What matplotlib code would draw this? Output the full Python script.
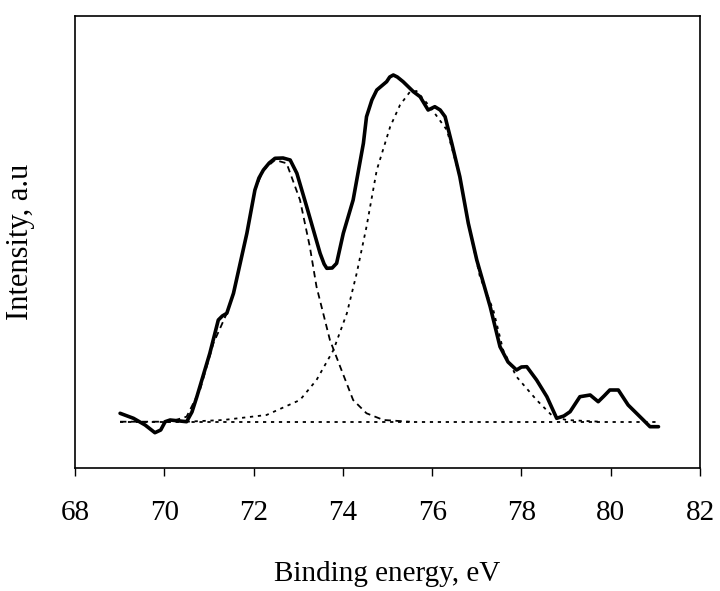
import matplotlib
matplotlib.use("Agg")
import matplotlib.pyplot as plt

# Measured spectrum (binding energy in eV, intensity in arbitrary units)
energy = [69.01, 69.31, 69.57, 69.79, 69.92, 70.02, 70.13, 70.50, 70.62, 70.73,
          71.02, 71.21, 71.30, 71.40, 71.55, 71.85, 72.03, 72.12, 72.22, 72.35,
          72.48, 72.66, 72.82, 72.97, 73.19, 73.49, 73.58, 73.64, 73.76, 73.86,
          74.01, 74.23, 74.46, 74.53, 74.65, 74.76, 74.98, 75.05, 75.13, 75.22,
          75.35, 75.58, 75.73, 75.91, 76.06, 76.18, 76.29, 76.44, 76.62, 76.81,
          77.00, 77.30, 77.52, 77.70, 77.89, 78.00, 78.12, 78.34, 78.57, 78.79,
          78.95, 79.09, 79.31, 79.54, 79.72, 79.85, 79.98, 80.17, 80.39, 80.73,
          80.88, 81.07]
intensity = [54.7, 49.7, 43.0, 35.3, 38.0, 46.3, 48.0, 46.3, 56.0, 71.3,
             114.7, 148.0, 152.0, 154.7, 174.7, 234.7, 278.0, 290.0, 298.0, 305.0,
             309.7, 310.0, 308.0, 294.7, 261.3, 214.7, 204.0, 199.7, 200.0, 204.7,
             234.7, 268.0, 324.7, 351.3, 368.0, 378.0, 386.3, 391.0, 393.0, 391.0,
             386.3, 376.3, 371.3, 358.0, 361.3, 358.0, 351.3, 324.7, 291.3, 244.7,
             208.0, 161.3, 121.3, 106.0, 98.0, 101.0, 101.3, 88.0, 71.3, 49.7,
             52.0, 56.3, 71.3, 73.0, 66.3, 72.0, 78.0, 78.0, 63.0, 48.0,
             41.3, 41.3]

# Fitted component 1 (dashed)
comp1_energy = [69.01, 70.13, 70.50, 70.80, 71.10, 71.40, 71.55, 71.85, 72.03, 72.22,
                72.48, 72.74, 73.04, 73.26, 73.41, 73.71, 73.94, 74.23, 74.53, 74.91, 75.50]
comp1_intensity = [46.3, 46.3, 51.3, 78.0, 124.7, 154.7, 174.7, 234.7, 278.0, 298.0,
                   308.0, 304.7, 268.0, 221.3, 181.3, 128.0, 101.3, 68.0, 54.7, 48.0, 46.3]

# Fitted component 2 (dotted)
comp2_energy = [70.50, 71.32, 72.29, 73.04, 73.41, 73.79, 74.09, 74.31, 74.53, 74.76,
                75.06, 75.28, 75.50, 75.65, 75.95, 76.33, 76.62, 76.81, 77.07, 77.37,
                77.59, 77.89, 78.34, 78.71, 79.01, 79.76]
comp2_intensity = [46.3, 48.0, 53.0, 68.0, 88.0, 118.0, 154.7, 194.7, 241.3, 298.0,
                   341.3, 363.0, 376.0, 377.0, 361.3, 338.0, 291.3, 244.7, 191.3, 158.0,
                   118.0, 91.3, 68.0, 51.3, 48.0, 46.3]

# Background line
base_energy = [69.01, 81.07]
base_intensity = [46.3, 46.3]

xticks = [68, 70, 72, 74, 76, 78, 80, 82]

plt.rcParams['font.family'] = ['Liberation Serif', 'DejaVu Serif']

fig = plt.figure(figsize=(7.2, 5.91), dpi=100)
ax = fig.add_axes([75/720, 1 - 468/591, 625/720, 452/591])

ax.plot(base_energy, base_intensity, color='black', lw=1.3, linestyle=(0, (1.8, 2.6)))
ax.plot(comp1_energy, comp1_intensity, color='black', lw=1.3, linestyle=(0, (3.5, 2.5)))
ax.plot(comp2_energy, comp2_intensity, color='black', lw=1.3, linestyle=(0, (1.8, 2.6)))
ax.plot(energy, intensity, color='black', lw=2.6, solid_joinstyle='round', solid_capstyle='round')

ax.set_xlim(68, 82)
ax.set_ylim(0, 452)
ax.set_xticks(xticks)
ax.set_xticklabels([str(t) for t in xticks])
ax.set_yticks([])
ax.tick_params(axis='x', direction='out', length=6, width=1, labelsize=21, pad=17)
for s in ax.spines.values():
    s.set_linewidth(1.2)

ax.set_xlabel('Binding energy, eV', fontsize=21, labelpad=25)
ax.set_ylabel('Intensity, a.u', fontsize=22, labelpad=29)

fig.savefig('out.png', dpi=100)
